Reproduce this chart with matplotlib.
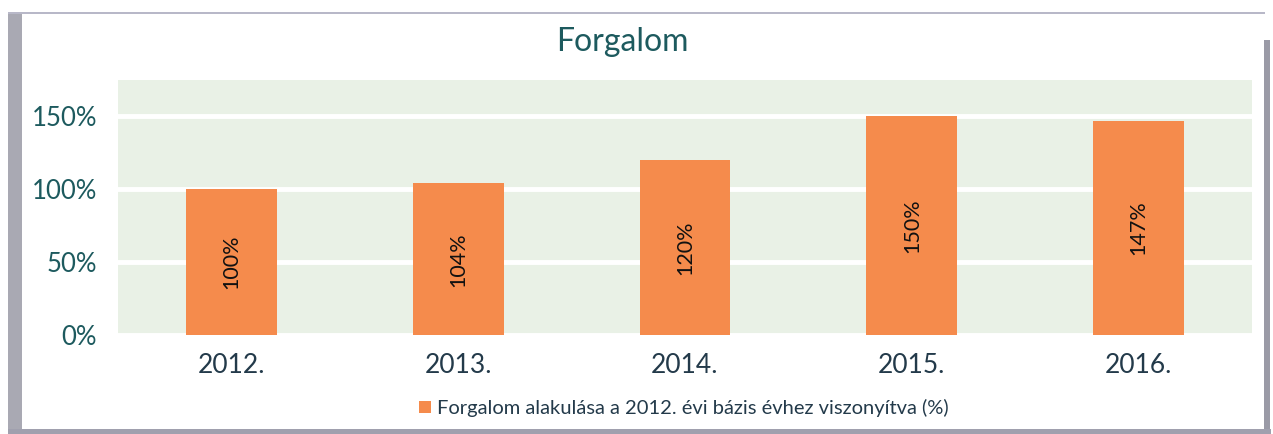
import matplotlib
matplotlib.use("Agg")
import matplotlib.pyplot as plt
from matplotlib.patches import Rectangle
from matplotlib.ticker import FuncFormatter

categories = ["2012.", "2013.", "2014.", "2015.", "2016."]
values = [100, 104, 120, 150, 147]
yticks = [0, 50, 100, 150]
title = "Forgalom"
legend_label = "Forgalom alakulása a 2012. évi bázis évhez viszonyítva (%)"

plt.rcParams['font.family'] = ['Lato', 'DejaVu Sans']

W, H = 1273, 434
fig = plt.figure(figsize=(W / 100, H / 100), dpi=100)
fig.patch.set_facecolor("white")

# scanned frame borders
fig.patches.append(Rectangle((8 / W, 0), 14 / W, 1 - 14 / H, transform=fig.transFigure,
                             facecolor="#a9a9b3", edgecolor="none"))
fig.patches.append(Rectangle((8 / W, 1 - 14 / H), 1 - 16 / W, 2 / H, transform=fig.transFigure,
                             facecolor="#b8b8c8", edgecolor="none"))
fig.patches.append(Rectangle((1264 / W, 0), 6 / W, 1 - 40 / H, transform=fig.transFigure,
                             facecolor="#9a9aa6", edgecolor="none"))
fig.patches.append(Rectangle((8 / W, 0), 1 - 10 / W, 5 / H, transform=fig.transFigure,
                             facecolor="#a0a0ae", edgecolor="none"))

ax = fig.add_axes([118 / W, 1 - 335 / H, (1252 - 118) / W, (335 - 80) / H])
ax.set_facecolor("#e9f1e6")
x = list(range(len(categories)))
bars = ax.bar(x, values, width=0.4, color="#f58b4c", zorder=3, label=legend_label)
ax.set_xlim(-0.5, len(categories) - 0.5)
ax.set_ylim(0, 175)
ax.set_yticks(yticks)
ax.yaxis.set_major_formatter(FuncFormatter(lambda v, p: f"{v:.0f}%"))
ax.set_xticks(x)
ax.set_xticklabels(categories)
ax.grid(axis="y", color="white", linewidth=3.5, zorder=1)
for s in ax.spines.values():
    s.set_visible(False)
ax.tick_params(axis="both", length=0)
ax.tick_params(axis="y", labelsize=18.5, labelcolor="#1d5a5e", pad=15)
ax.tick_params(axis="x", labelsize=19, labelcolor="#233a4a", pad=13)

for b, v in zip(bars, values):
    ax.text(b.get_x() + b.get_width() / 2, v / 2, f"{v}%", rotation=90,
            ha="center", va="center", fontsize=15.5, color="#111111", zorder=4)

fig.text(622 / W, 1 - 42 / H, title, ha="center", va="center", fontsize=23, color="#1d5a5e")

leg = fig.legend(handles=[bars], labels=[legend_label], loc="center",
                 bbox_to_anchor=(684 / W, 1 - 408 / H), frameon=False, fontsize=14.5,
                 handlelength=0.6, handleheight=0.6, handletextpad=0.3)
for t in leg.get_texts():
    t.set_color("#233a4a")

fig.savefig("out.png", dpi=100)
